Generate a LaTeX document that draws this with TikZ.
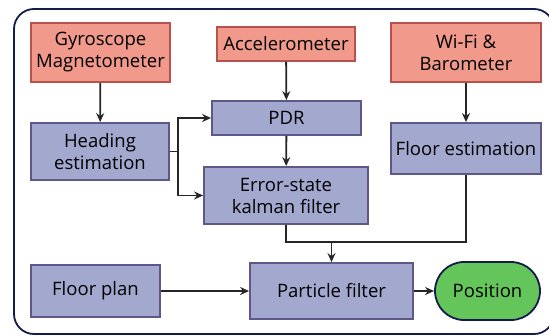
\documentclass[tikz,border=0pt]{standalone}
\usepackage{fontspec}
\setmainfont{Open Sans}
\usetikzlibrary{arrows.meta}
\definecolor{sensorfill}{HTML}{F1998B}
\definecolor{sensorline}{HTML}{B6514D}
\definecolor{procfill}{HTML}{A3A8CF}
\definecolor{procline}{HTML}{5D5888}
\definecolor{posfill}{HTML}{64C55A}
\definecolor{navy}{HTML}{141C4C}
\tikzset{
  box/.style={draw,line width=1.8pt,align=center,inner sep=0pt,
    font=\fontsize{18.5}{22}\selectfont},
  sensor/.style={box,draw=sensorline,fill=sensorfill},
  proc/.style={box,draw=procline,fill=procfill},
  result/.style={box,draw=navy,fill=posfill,rounded corners=29pt},
  flow/.style={line width=1.8pt,draw=black!85,-{Stealth[length=9pt,width=8pt]}},
  link/.style={line width=1.8pt,draw=black!85}
}
\begin{document}
\begin{tikzpicture}[x=1pt,y=-1pt]
  \useasboundingbox (0,0) rectangle (549,335);
  \clip (0,0) rectangle (549,335);
  % outer frame
  \draw[navy,line width=1.8pt,rounded corners=20pt] (14,9) rectangle (554,334);
  % sensors
  \node[sensor,minimum width=139pt,minimum height=59pt] (gyro) at (100.5,52.5) {Gyroscope\\Magnetometer};
  \node[sensor,minimum width=138pt,minimum height=34pt] (accel) at (286,44) {Accelerometer};
  \node[sensor,minimum width=150pt,minimum height=59pt] (wifi) at (466,52.5) {Wi-Fi \&\\Barometer};
  % processing blocks
  \node[proc,minimum width=138pt,minimum height=57pt] (heading) at (100,151.5) {Heading\\estimation};
  \node[proc,minimum width=149pt,minimum height=34pt] (pdr) at (286.5,118) {PDR};
  \node[proc,minimum width=150pt,minimum height=51pt] (floorest) at (466,148.5) {Floor estimation};
  \node[proc,minimum width=164pt,minimum height=57pt] (ekf) at (286,195.5) {Error-state\\kalman filter};
  \node[proc,minimum width=129pt,minimum height=52pt] (floorplan) at (95.5,291) {Floor plan};
  \node[proc,minimum width=163pt,minimum height=56pt] (pf) at (331.5,291) {Particle filter};
  \node[result,minimum width=105pt,minimum height=58pt] (pos) at (487.5,291) {Position};
  % connectors
  \draw[flow] (gyro) -- (heading);
  \draw[flow] (accel) -- (pdr);
  \draw[flow] (pdr) -- (ekf);
  \draw[flow] (wifi) -- (floorest);
  \coordinate (split) at (178,151.5);
  \draw[link] (heading.east) -- (split);
  \draw[flow] (split) |- (pdr.west);
  \draw[flow] (split) |- (ekf.west);
  \coordinate (merge) at (331.5,242);
  \draw[link] (ekf.south) |- (merge) -| (floorest.south);
  \draw[flow] (merge) -- (pf.north);
  \draw[flow] (floorplan) -- (pf);
  \draw[flow] (pf) -- (pos);
\end{tikzpicture}
\end{document}
